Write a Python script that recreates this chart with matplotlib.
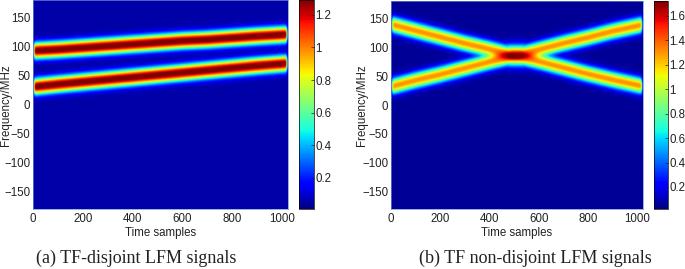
import numpy as np
import matplotlib
matplotlib.use('Agg')
import matplotlib.pyplot as plt

plt.rcParams['font.family'] = ['Liberation Sans', 'DejaVu Sans']

W, H = 685, 269

# ridge centres (MHz) at these time samples
time_knots = [10, 100, 200, 300, 400, 500, 600, 700, 800, 900, 1020]
a_lower = [31, 35, 39, 43, 47, 51, 55, 59, 63, 67, 71]
a_upper = [93, 95, 98, 101, 104, 107, 110, 112, 115, 118, 121]
b_rising = [33, 43, 53, 64, 75, 85, 96, 107, 117, 128, 139]
b_falling = [139, 129, 118, 107, 97, 86, 76, 65, 54, 44, 33]

a_peak = 1.27
b_peak = 1.25
background = 0.055
ridge_sigma = 9.8

# bright block where the two chirps of (b) cross
cross_time = 512
cross_freq = 86
cross_peak = 1.7
cross_halfwidth = 70
cross_sigma = 11

a_limits = (0.01, 1.29)
b_limits = (0.02, 1.72)
a_cticks = [0.2, 0.4, 0.6, 0.8, 1, 1.2]
b_cticks = [0.2, 0.4, 0.6, 0.8, 1, 1.2, 1.4, 1.6]
xticks = [0, 200, 400, 600, 800, 1000]
yticks = [-150, -100, -50, 0, 50, 100, 150]

t = np.linspace(0, 1024, 513)
f = np.linspace(-180, 180, 361)
tt, ff = np.meshgrid(t, f)
fade = 0.5 * (np.tanh((tt - 3) / 4) - np.tanh((tt - 1024 + 3) / 4))


def tf_map(ridges, peak):
    # ridges add in power, so the crossing comes out sqrt(2) higher
    total = np.zeros_like(tt)
    for ridge in ridges:
        centre = np.interp(t, time_knots, ridge)
        total += (peak * np.exp(-0.5 * np.abs((ff - centre[None, :]) / ridge_sigma) ** 2.2)) ** 2
    return np.sqrt(total)


def px_axes(left, top, right, bottom):
    return fig.add_axes([left / W, 1 - bottom / H, (right - left) / W, (bottom - top) / H])


def panel(box, cbox, data, limits, cticks, caption, cap_x, ylab_x):
    ax = px_axes(*box)
    im = ax.imshow(background + data * fade, origin='lower', extent=[0, 1024, -180, 180],
                   aspect='auto', cmap='jet', vmin=limits[0], vmax=limits[1],
                   interpolation='bilinear')
    ax.set_xticks(xticks)
    ax.set_yticks(yticks)
    ax.tick_params(labelsize=8.3, length=0, pad=2, colors='#222222')
    ax.tick_params(axis='x', pad=3)
    ax.set_xlabel('Time samples', fontsize=8.3, labelpad=1.5, color='#222222')
    for s in ax.spines.values():
        s.set_color('#6f8fd0')
        s.set_linewidth(0.5)
    fig.text(ylab_x / W, 1 - 105 / H, 'Frequency/MHz', fontsize=8.3, rotation=90,
             ha='center', va='center', color='#222222')

    cax = px_axes(*cbox)
    cb = fig.colorbar(im, cax=cax)
    cb.set_ticks(cticks)
    cb.set_ticklabels([str(v) for v in cticks])
    cb.ax.tick_params(labelsize=8.3, length=2, width=0.5, pad=1, direction='in', colors='#222222')
    cb.outline.set_linewidth(0.5)
    fig.text(cap_x / W, 1 - 258 / H, caption, fontsize=13, family='Liberation Serif',
             ha='left', va='center', color='#222222')


fig = plt.figure(figsize=(W / 100, H / 100), dpi=100)

map_a = tf_map([a_lower, a_upper], a_peak)
map_b = tf_map([b_rising, b_falling], b_peak)
block = cross_peak * np.exp(-((tt - cross_time) / cross_halfwidth) ** 4) \
    * np.exp(-0.5 * ((ff - cross_freq) / cross_sigma) ** 2)
map_b = np.minimum(np.maximum(map_b, block), cross_peak)

panel((33, 0, 288, 209), (299, 0, 314, 209), map_a,
      a_limits, a_cticks, '(a) TF-disjoint LFM signals', 36, 6)
panel((391, 1, 643, 209), (654, 1, 668, 209), map_b,
      b_limits, b_cticks, '(b) TF non-disjoint LFM signals', 419, 362)

fig.savefig('out.png', dpi=100)
